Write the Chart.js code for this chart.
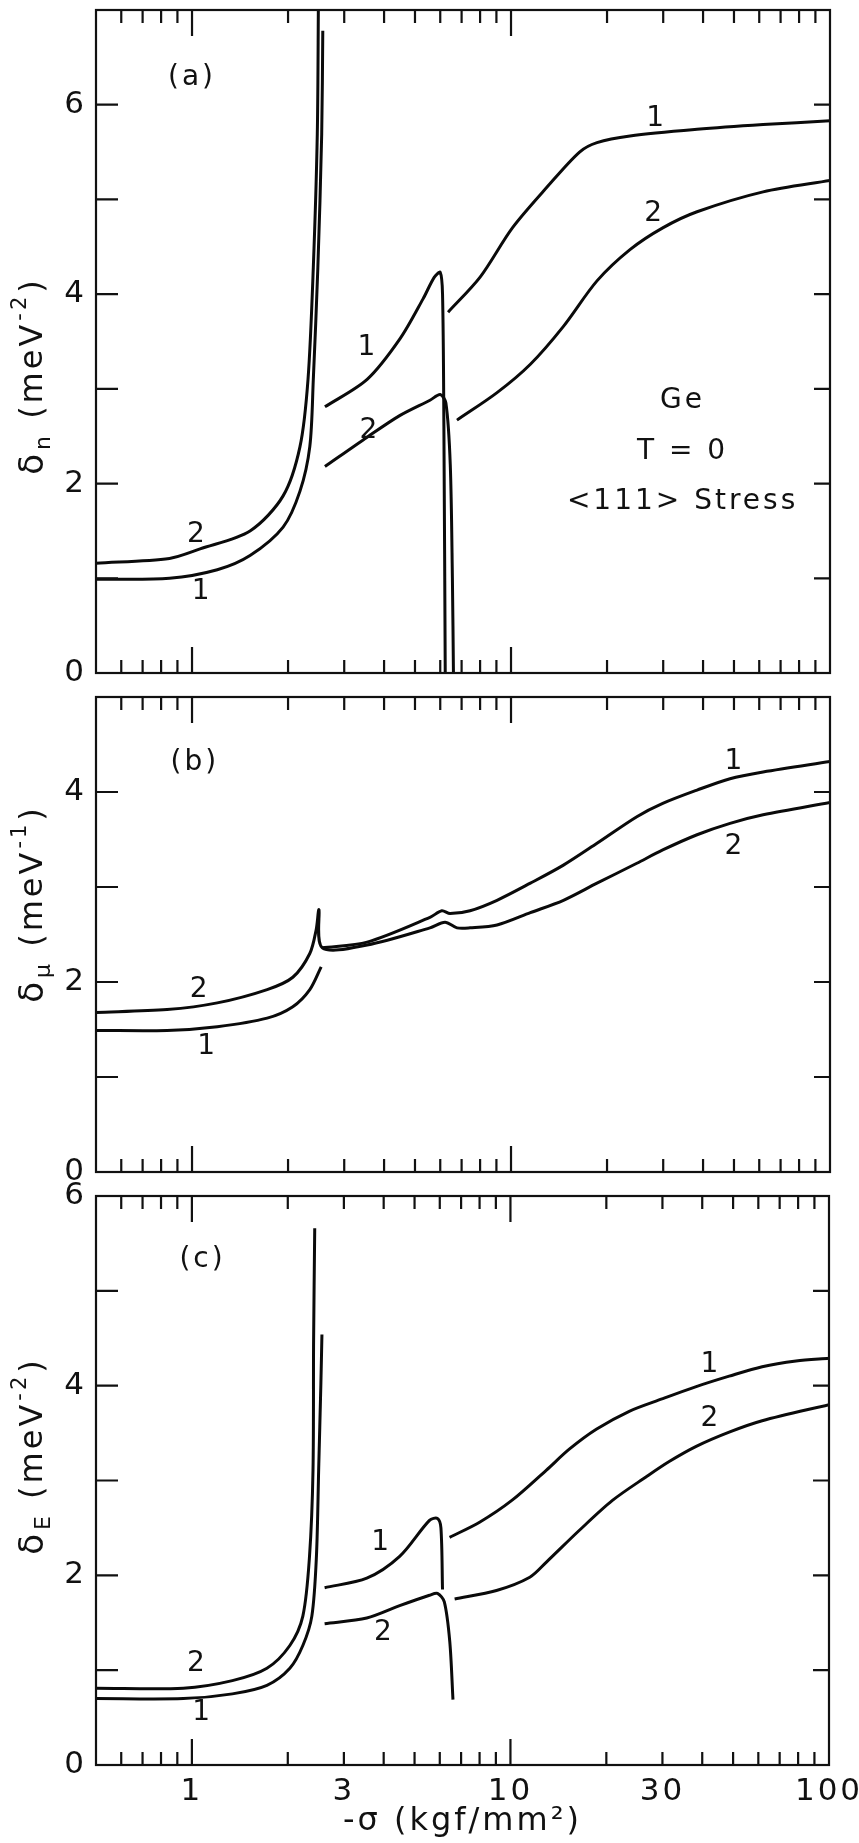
<!DOCTYPE html>
<html lang="en">
<head>
<meta charset="UTF-8">
<title>Ge, T = 0, &lt;111&gt; stress</title>
<script src="https://cdn.jsdelivr.net/npm/chart.js@4.4.0/dist/chart.umd.min.js"></script>
<style>
  body { margin: 0; background: #fff; }
  #wrap { position: relative; width: 859px; height: 1843px; overflow: hidden; }
  canvas { position: absolute; left: 0; }
</style>
</head>
<body>
<div id="wrap">
  <canvas id="chartA" width="859" height="690" style="top:0px"></canvas>
  <canvas id="chartB" width="859" height="500" style="top:690px"></canvas>
  <canvas id="chartC" width="859" height="665" style="top:1178px"></canvas>
</div>
<script>
// -sigma (kgf/mm2), log axis; null in y = break in the curve
// (a) delta_n
const xA1 = [0.5, 0.85, 1.2, 1.52, 1.93, 2.18, 2.34, 2.40, 2.48, 2.55, 2.57, 2.59, 2.61, 3.54, 4.49, 5.3, 5.75, 6.0, 6.1, 6.16, 6.22, 6.3, 6.35, 8.0, 10.1, 12.97, 16.4, 18.6, 23.6, 38.3, 61.7, 100];
const yA1 = [0.99, 1.0, 1.09, 1.24, 1.54, 1.92, 2.39, 3.1, 4.28, 5.69, 6.78, null, 2.81, 3.10, 3.53, 3.95, 4.18, 4.23, 4.0, 2.6, 0, null, 3.81, 4.18, 4.70, 5.13, 5.50, 5.60, 5.67, 5.74, 5.79, 5.83];
const xA2 = [0.5, 0.85, 1.06, 1.52, 1.93, 2.18, 2.31, 2.40, 2.47, 2.49, 2.55, 2.61, 3.54, 4.49, 5.57, 6.0, 6.25, 6.45, 6.55, 6.6, 6.7, 6.77, 9.04, 11.5, 14.6, 18.6, 23.6, 29.9, 38.3, 61.7, 100];
const yA2 = [1.16, 1.21, 1.31, 1.5, 1.87, 2.39, 3.1, 4.28, 5.69, 7.1, null, 2.18, 2.49, 2.72, 2.88, 2.94, 2.85, 2.2, 1.0, 0, null, 2.67, 2.96, 3.26, 3.66, 4.14, 4.47, 4.70, 4.87, 5.08, 5.20];

// (b) delta_mu
const xB1 = [0.5, 0.835, 1.2, 1.72, 2.07, 2.34, 2.54, 2.55, 2.56, 3.54, 5.57, 6.07, 6.44, 7.44, 9.04, 11.5, 14.6, 18.6, 24.8, 29.9, 38.3, 48.6, 61.7, 100];
const yB1 = [1.49, 1.49, 1.53, 1.62, 1.74, 1.92, 2.16, null, 2.36, 2.42, 2.68, 2.75, 2.72, 2.75, 2.86, 3.04, 3.23, 3.46, 3.74, 3.88, 4.02, 4.14, 4.21, 4.32];
const xB2 = [0.5, 0.835, 1.2, 1.72, 2.07, 2.34, 2.45, 2.50, 2.56, 3.54, 5.57, 6.21, 6.77, 7.44, 9.04, 11.5, 14.6, 18.6, 24.8, 29.9, 38.3, 48.6, 61.7, 100];
const yB2 = [1.68, 1.71, 1.78, 1.92, 2.05, 2.30, 2.55, 2.76, 2.36, 2.39, 2.57, 2.63, 2.57, 2.57, 2.60, 2.73, 2.86, 3.04, 3.25, 3.39, 3.55, 3.67, 3.76, 3.89];

// (c) delta_E
const xC1 = [0.5, 0.94, 1.34, 1.72, 2.03, 2.23, 2.38, 2.46, 2.50, 2.54, 2.56, 2.58, 2.61, 3.54, 4.49, 5.57, 5.9, 6.05, 6.12, 6.3, 6.44, 8.0, 10.1, 12.97, 15.3, 18.6, 23.6, 29.9, 38.3, 48.6, 61.7, 78.8, 100];
const yC1 = [0.70, 0.70, 0.75, 0.84, 1.02, 1.26, 1.57, 2.20, 3.11, 4.01, 4.54, null, 1.87, 1.97, 2.20, 2.58, 2.60, 2.5, 1.85, null, 2.40, 2.56, 2.79, 3.11, 3.33, 3.54, 3.73, 3.86, 3.99, 4.10, 4.20, 4.26, 4.29];
const xC2 = [0.5, 0.94, 1.34, 1.72, 2.03, 2.23, 2.34, 2.40, 2.41, 2.43, 2.5, 2.61, 3.54, 4.49, 5.57, 5.9, 6.2, 6.45, 6.6, 6.64, 6.68, 9.04, 11.5, 12.97, 16.4, 20.9, 26.7, 31.5, 38.3, 48.6, 61.7, 100];
const yC2 = [0.81, 0.81, 0.89, 1.02, 1.26, 1.57, 2.20, 3.11, 4.46, 5.66, null, 1.49, 1.55, 1.68, 1.79, 1.81, 1.72, 1.3, 0.69, null, 1.75, 1.84, 1.98, 2.14, 2.47, 2.79, 3.04, 3.20, 3.36, 3.51, 3.63, 3.80];

// axis ticks
const xMinorTicks = [0.6, 0.7, 0.8, 0.9, 2, 3, 4, 5, 6, 7, 8, 9, 20, 30, 40, 50, 60, 70, 80, 90];
const xMajorTicks = [1, 10];
const xTickLabels = [1, 3, 10, 30, 100];

// text inside the panels
const aNoteText = ['(a)', '2', '1', '1', '2', '1', '2', 'Ge', 'T = 0', '<111> Stress'];
const aNoteX = [1.0, 1.04, 1.075, 3.56, 3.61, 28.6, 28.2, 34.5, 34.5, 34.5];
const aNoteY = [6.29, 1.46, 0.86, 3.43, 2.56, 5.85, 4.85, 2.88, 2.34, 1.81];
const bNoteText = ['(b)', '2', '1', '1', '2'];
const bNoteX = [1.02, 1.06, 1.12, 50.3, 50.3];
const bNoteY = [4.31, 1.92, 1.32, 4.32, 3.42];
const cNoteText = ['(c)', '2', '1', '1', '2', '1', '2'];
const cNoteX = [1.08, 1.04, 1.08, 3.94, 4.02, 42.6, 42.6];
const cNoteY = [5.33, 1.07, 0.55, 2.34, 1.39, 4.22, 3.65];

const FONT = '"DejaVu Sans", sans-serif';
const INK = '#111';

function pts(xs, ys) {
  return xs.map((x, i) => ({ x: x, y: ys[i] }));
}

// wide lettering like the original
const spacingPlugin = {
  id: 'spacing',
  beforeDraw(chart) { chart.ctx.letterSpacing = '3px'; }
};

// box round the plot area plus inward tick marks
const framePlugin = {
  id: 'frame',
  afterDatasetsDraw(chart) {
    const { ctx, chartArea: a, scales } = chart;
    const x = scales.x, y = scales.y;
    ctx.save();
    ctx.strokeStyle = INK;
    ctx.lineWidth = 2.2;
    ctx.strokeRect(a.left, a.top, a.right - a.left, a.bottom - a.top);
    ctx.beginPath();
    const xt = (v, len) => {
      const px = x.getPixelForValue(v);
      ctx.moveTo(px, a.bottom); ctx.lineTo(px, a.bottom - len);
      ctx.moveTo(px, a.top); ctx.lineTo(px, a.top + len);
    };
    xMinorTicks.forEach(v => xt(v, 13));
    xMajorTicks.forEach(v => xt(v, 26));
    y.ticks.forEach(t => {
      const py = y.getPixelForValue(t.value);
      ctx.moveTo(a.left, py); ctx.lineTo(a.left + 22, py);
      ctx.moveTo(a.right, py); ctx.lineTo(a.right - 16, py);
    });
    ctx.stroke();
    ctx.restore();
  }
};

// curve numbers and panel notes, placed in data coordinates
const notesPlugin = {
  id: 'notes',
  afterDatasetsDraw(chart, args, opts) {
    const { ctx, scales } = chart;
    ctx.save();
    ctx.fillStyle = INK;
    ctx.font = '28px ' + FONT;
    ctx.letterSpacing = '3px';
    ctx.textAlign = 'center';
    ctx.textBaseline = 'middle';
    opts.text.forEach((t, i) => {
      ctx.fillText(t, scales.x.getPixelForValue(opts.x[i]), scales.y.getPixelForValue(opts.y[i]));
    });
    ctx.restore();
  }
};

// rotated y title with subscript / superscript
const yTitlePlugin = {
  id: 'ytitle',
  afterDraw(chart, args, opts) {
    const { ctx, chartArea: a } = chart;
    const parts = [
      { t: 'δ', size: 34, dy: 0 },
      { t: opts.sub, size: 22, dy: 10 },
      { t: ' (meV', size: 32, dy: 0 },
      { t: opts.sup, size: 21, dy: -13 },
      { t: ')', size: 32, dy: 0 }
    ];
    ctx.save();
    ctx.fillStyle = INK;
    ctx.textBaseline = 'middle';
    ctx.textAlign = 'left';
    ctx.letterSpacing = '3px';
    let total = 0;
    parts.forEach(p => { ctx.font = p.size + 'px ' + FONT; p.w = ctx.measureText(p.t).width + 1; total += p.w; });
    ctx.translate(a.left - 62, (a.top + a.bottom) / 2 + opts.shift);
    ctx.rotate(-Math.PI / 2);
    let cx = -total / 2;
    parts.forEach(p => {
      ctx.font = p.size + 'px ' + FONT;
      ctx.fillText(p.t, cx, p.dy);
      cx += p.w;
    });
    ctx.restore();
  }
};

// invisible tick marks give the label gap without padding the plot area
const hiddenTicks = (len) => ({ display: true, drawOnChartArea: false, drawTicks: true,
  tickLength: len, tickColor: 'rgba(0,0,0,0)' });

function makeChart(id, cfg) {
  const line = { borderColor: '#0a0a0a', borderWidth: 3, pointRadius: 0, fill: false,
    tension: 0.3, spanGaps: false };
  return new Chart(document.getElementById(id), {
    type: 'line',
    data: {
      datasets: [
        Object.assign({ label: '1', data: pts(cfg.x1, cfg.y1) }, line),
        Object.assign({ label: '2', data: pts(cfg.x2, cfg.y2) }, line)
      ]
    },
    options: {
      responsive: false,
      animation: false,
      devicePixelRatio: 1,
      layout: { padding: cfg.pad },
      plugins: {
        legend: { display: false },
        tooltip: { enabled: false },
        notes: cfg.notes,
        ytitle: cfg.title
      },
      scales: {
        x: {
          type: 'logarithmic', min: 0.5, max: 100,
          display: cfg.showX,
          grid: hiddenTicks(8),
          border: { display: false },
          afterBuildTicks: s => { s.ticks = xTickLabels.map(v => ({ value: v })); },
          afterFit: s => { if (cfg.showX) s.height = 78; },
          ticks: { autoSkip: false, maxRotation: 0, padding: 0, color: INK,
            font: { family: FONT, size: 31 }, callback: v => String(v) },
          title: { display: true, text: '-σ (kgf/mm²)', color: INK,
            font: { family: FONT, size: 32 }, padding: { top: 0, bottom: 2 } }
        },
        y: {
          min: 0, max: cfg.yMax,
          grid: hiddenTicks(9),
          border: { display: false },
          afterFit: s => { s.width = 96; },
          ticks: { stepSize: 1, padding: 0, color: INK,
            font: { family: FONT, size: 31, lineHeight: 0.4 },
            callback: v => (v % 2 === 0 ? String(v) : '') }
        }
      }
    },
    plugins: [spacingPlugin, framePlugin, notesPlugin, yTitlePlugin]
  });
}

makeChart('chartA', {
  x1: xA1, y1: yA1, x2: xA2, y2: yA2, yMax: 7, showX: false,
  pad: { left: 0, right: 29, top: 10, bottom: 17 },
  notes: { text: aNoteText, x: aNoteX, y: aNoteY },
  title: { sub: 'n', sup: '-2', shift: 34 }
});
makeChart('chartB', {
  x1: xB1, y1: yB1, x2: xB2, y2: yB2, yMax: 5, showX: false,
  pad: { left: 0, right: 29, top: 7, bottom: 18 },
  notes: { text: bNoteText, x: bNoteX, y: bNoteY },
  title: { sub: 'μ', sup: '-1', shift: -31 }
});
makeChart('chartC', {
  x1: xC1, y1: yC1, x2: xC2, y2: yC2, yMax: 6, showX: true,
  pad: { left: 0, right: 30, top: 18, bottom: 0 },
  notes: { text: cNoteText, x: cNoteX, y: cNoteY },
  title: { sub: 'E', sup: '-2', shift: -25 }
});
</script>
</body>
</html>
